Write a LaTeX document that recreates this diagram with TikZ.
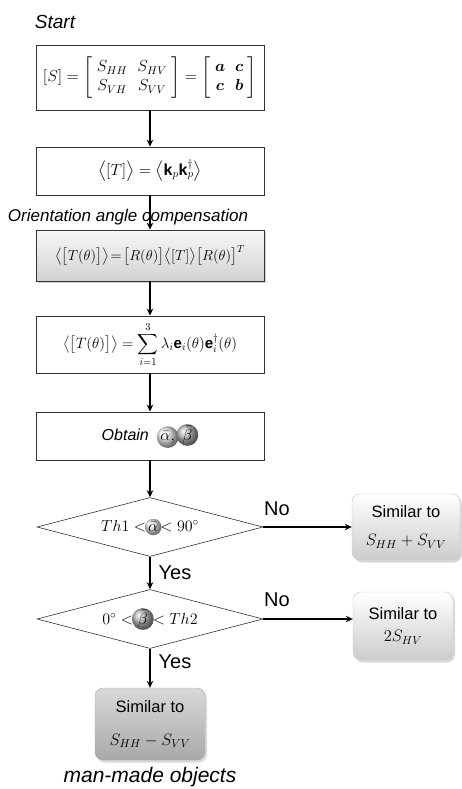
\RequirePackage{fix-cm}
\documentclass[tikz,border=0pt]{standalone}
\usepackage{amsmath}
\usepackage{fontspec}
\setmainfont{Liberation Sans}
\usetikzlibrary{arrows.meta,shapes.geometric,shadows}
\tikzset{
  box/.style={draw=black!80, line width=0.8pt, minimum width=228pt, inner sep=0pt, fill=white,
    font=\fontsize{16}{19}\selectfont},
  graybox/.style={box, top color=gray!6, bottom color=gray!35,
    drop shadow={opacity=0.35, shadow xshift=1.5pt, shadow yshift=-2pt}},
  dia/.style={diamond, draw=black!80, line width=0.6pt, inner sep=0pt, aspect=3.8, fill=white,
    minimum width=226pt, minimum height=59pt, font=\fontsize{16}{19}\selectfont},
  simbox/.style={rounded corners=8pt, draw=gray!45, line width=0.4pt, top color=white, bottom color=gray!40,
    drop shadow={opacity=0.3, shadow xshift=2pt, shadow yshift=-2.5pt}, align=center,
    font=\fontsize{16.5}{22}\selectfont, inner sep=0pt},
  finalbox/.style={simbox, draw=gray!65, top color=gray!30, bottom color=gray!68},
  flow/.style={line width=1.5pt, -{Stealth[length=7pt,width=6.5pt]}},
  lbl/.style={font=\fontsize{17}{20}\selectfont\itshape, inner sep=0pt},
  yn/.style={font=\fontsize{20}{24}\selectfont, inner sep=0pt},
  ball/.style={shape=circle, minimum width=0pt, minimum height=0pt, inner sep=1pt, draw=none,
    line width=0pt, shading=ball},
}
\newcommand{\balla}[1]{\tikz[baseline=(ba.base)]\node[ball, ball color=gray!12](ba){#1};}
\newcommand{\ballb}[1]{\tikz[baseline=(bb.base)]\node[ball, ball color=gray!55](bb){#1};}
\begin{document}
\begin{tikzpicture}[x=1pt,y=-1pt]
\useasboundingbox (0,0) rectangle (461,789);
\node[lbl, font=\fontsize{19}{22}\selectfont\itshape] (start) at (55,22) {Start};
\node[box, minimum height=65pt] (b1) at (150,77.5)
  {$[S]=\begin{bmatrix}\; S_{HH} & S_{HV}\;\\ \; S_{VH} & S_{VV}\;\end{bmatrix}=\begin{bmatrix}\; \boldsymbol{a} & \boldsymbol{c}\;\\ \; \boldsymbol{c} & \boldsymbol{b}\;\end{bmatrix}$};
\node[box, minimum height=48pt] (b2) at (150,171)
  {$\bigl\langle[T]\bigr\rangle=\bigl\langle \mathbf{k}_p\mathbf{k}_p^{\dagger}\bigr\rangle$};
\node[lbl] (orient) at (128,217) {Orientation angle compensation};
\node[graybox, minimum height=51pt, font=\fontsize{14.5}{17}\selectfont] (b3) at (150,255.5)
  {$\bigl\langle\bigl[T(\theta)\bigr]\bigr\rangle\!=\!\bigl[R(\theta)\bigr]\bigl\langle[T]\bigr\rangle\bigl[R(\theta)\bigr]^{T}$};
\node[box, minimum height=57pt, font=\fontsize{15}{18}\selectfont] (b4) at (150,344.5)
  {$\bigl\langle\bigl[T(\theta)\bigr]\bigr\rangle=\displaystyle\sum_{i=1}^{3}\lambda_i\mathbf{e}_i(\theta)\mathbf{e}_i^{\dagger}(\theta)$};
\node[box, minimum height=48pt] (b5) at (150,436)
  {\textit{Obtain}\enspace\balla{$\bar\alpha,$}\hspace{-2pt}\ballb{$\bar\beta$}};
\node[dia] (d1) at (150,527) {$Th1<$\hspace{-1pt}\balla{$\bar\alpha$}\hspace{-1pt}$<90^{\circ}$};
\node[dia] (d2) at (150,619) {$0^{\circ}<$\hspace{-1pt}\ballb{$\bar\beta$}\hspace{-1pt}$<Th2$};
\node[simbox, minimum width=108pt, minimum height=66pt, font=\fontsize{16.5}{28}\selectfont] (s1) at (406,527)
  {Similar to\\ $S_{HH}+S_{VV}$};
\node[simbox, minimum width=100pt, minimum height=68pt] (s2) at (403,626)
  {Similar to\\ $2S_{HV}$};
\node[finalbox, minimum width=110pt, minimum height=72pt, font=\fontsize{16.5}{33}\selectfont] (s3) at (150,724)
  {Similar to\\ $S_{HH}-S_{VV}$};
\node[lbl, font=\fontsize{21}{24}\selectfont\itshape] (man) at (150,777.5) {man-made objects};
\node[yn] (no1) at (277,509) {No};
\node[yn] (no2) at (277,600) {No};
\node[yn] (yes1) at (175,573) {Yes};
\node[yn] (yes2) at (175,662) {Yes};
\draw[flow] (b1) -- (b2);
\draw[flow] (b2) -- (b3);
\draw[flow] (b3) -- (b4);
\draw[flow] (b4) -- (b5);
\draw[flow] (b5) -- (d1);
\draw[flow] (d1) -- (d2);
\draw[flow] (d2) -- (s3);
\draw[flow] (d1.east) -- (s1.west);
\draw[flow] (d2.east) -- (d2.east -| s2.west);
\end{tikzpicture}
\end{document}
